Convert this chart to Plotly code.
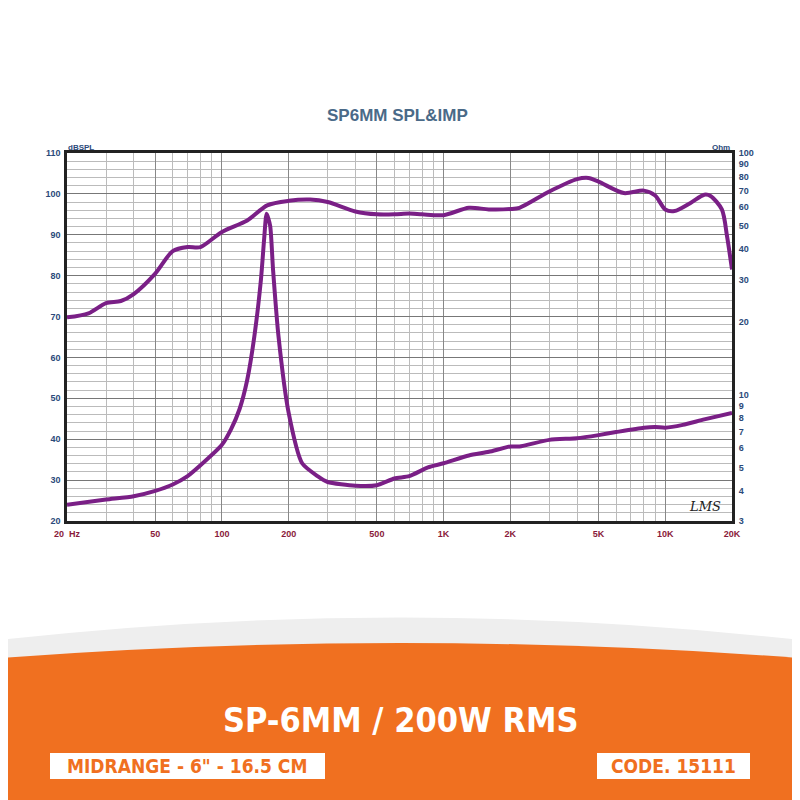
import plotly.graph_objects as go
import numpy as np

spl_f = [20,25,30,35,40,50,60,70,80,100,130,160,200,250,300,400,500,600,700,800,1000,
         1300,1600,2000,2200,3000,4000,4500,5000,6500,8000,9000,10000,11000,13000,15000,16000,18000,19000,20000]
spl_db = [69.8,70.8,73.3,73.8,75.5,80.5,86,87,87,90.7,93.5,97.2,98.3,98.6,98,95.7,95,95,95.2,95,94.8,
          96.6,96.2,96.3,96.6,100.6,103.6,103.9,103,100.2,100.8,99.6,96.2,95.8,97.8,99.8,99.5,96.2,89.6,81.5]
imp_f = [20,30,40,50,60,70,80,100,110,120,130,140,150,155,159,165,170,180,200,230,270,300,400,500,600,700,850,
         1000,1300,1600,2000,2200,3000,4000,5000,6000,8000,9000,10000,12000,15000,20000]
imp_ohm = [3.5,3.68,3.8,4.0,4.25,4.6,5.1,6.2,7.2,8.7,11.5,17.4,30,44,56,50,33,17.4,8.4,5.2,4.6,4.35,4.2,4.22,4.5,4.6,5.0,
           5.2,5.6,5.8,6.1,6.1,6.5,6.6,6.8,7.0,7.3,7.35,7.3,7.5,7.9,8.4]
x_ticks = [20,50,100,200,500,1000,2000,5000,10000,20000]
x_labels = ["20  Hz","50","100","200","500","1K","2K","5K","10K","20K"]
y_ticks = list(range(20,111,10))
y2_ticks = [3,4,5,6,7,8,9,10,20,30,40,50,60,70,80,90,100]

def px(p): return (p-67)/665
def py(p): return (521-p)/368

col = "#7a1f86"
fig = go.Figure()
fig.add_trace(go.Scatter(x=spl_f, y=spl_db, mode="lines", line=dict(color=col, width=4, shape="spline", smoothing=0.8), showlegend=False))
fig.add_trace(go.Scatter(x=imp_f, y=imp_ohm, yaxis="y2", mode="lines", line=dict(color=col, width=4, shape="spline", smoothing=0.6), showlegend=False))

tf = dict(size=9, color="#2b4a7a", family="Liberation Sans", weight="bold")
fig.update_layout(
    width=800, height=800, paper_bgcolor="white", plot_bgcolor="white",
    margin=dict(l=59, r=76, t=145, b=287),
    font=dict(family="Liberation Sans, Arial", color="#2b4a7a"),
    xaxis=dict(type="log", range=[np.log10(20), np.log10(20000)], tickvals=x_ticks, ticktext=x_labels,
               tickfont=dict(size=9, color="#8a1a3a", family="Liberation Sans", weight="bold"),
               ticks="outside", ticklen=2, tickcolor="rgba(0,0,0,0)",
               showgrid=True, gridcolor="#888", gridwidth=1.3,
               minor=dict(showgrid=True, gridcolor="#bbb", dtick="D1"),
               showline=True, linecolor="#222", linewidth=2.5, mirror=True, zeroline=False),
    yaxis=dict(range=[20,110], tickvals=y_ticks, tickfont=tf, ticks="outside", ticklen=2, tickcolor="rgba(0,0,0,0)",
               showgrid=True, gridcolor="#777", gridwidth=1.3,
               minor=dict(showgrid=True, gridcolor="#bbb", dtick=2),
               showline=True, linecolor="#222", linewidth=2.5, mirror=True, zeroline=False),
    yaxis2=dict(type="log", range=[np.log10(3), 2], overlaying="y", side="right", tickvals=y2_ticks,
                tickfont=tf, ticks="outside", ticklen=4, tickcolor="rgba(0,0,0,0)", showgrid=False, zeroline=False),
)
fig.add_shape(type="rect", xref="paper", yref="paper", x0=px(3), x1=px(797), y0=py(797), y1=py(3), layer="below",
              line=dict(width=1, color="#dddddd"))
fig.add_shape(type="path", xref="paper", yref="paper", layer="below",
              path=f"M {px(0)} {py(640)} Q {px(400)} {py(595)} {px(800)} {py(640)} L {px(800)} {py(805)} L {px(0)} {py(805)} Z",
              fillcolor="#eeeeee", line=dict(width=0))
fig.add_shape(type="path", xref="paper", yref="paper", layer="below",
              path=f"M {px(0)} {py(658)} Q {px(400)} {py(628)} {px(800)} {py(658)} L {px(800)} {py(805)} L {px(0)} {py(805)} Z",
              fillcolor="#f07020", line=dict(width=0))
fig.add_shape(type="rect", xref="paper", yref="paper", x0=px(50), x1=px(325), y0=py(779), y1=py(753),
              fillcolor="white", line=dict(width=0))
fig.add_shape(type="rect", xref="paper", yref="paper", x0=px(597), x1=px(750), y0=py(779), y1=py(753),
              fillcolor="white", line=dict(width=0))
def ann(text, x, y, size, color, family="Liberation Sans", xa="center", ya="middle"):
    fig.add_annotation(text=text, xref="paper", yref="paper", x=px(x), y=py(y), xanchor=xa, yanchor=ya,
                       showarrow=False, font=dict(size=size, color=color, family=family))
ann("<b>SP6MM SPL&IMP</b>", 397, 115, 17, "#4a6a88")
ann("<b>dBSPL</b>", 66, 147, 8, "#2b4a7a", xa="left")
ann("<b>Ohm</b>", 732, 147, 8, "#2b4a7a", xa="right")
ann("<i>LMS</i>", 705, 506, 13, "#222", family="DejaVu Serif")
cond = "DejaVu Sans Condensed, DejaVu Sans"
ann("<b>SP-6MM / 200W RMS</b>", 400, 720, 34, "white", family=cond)
ann("<b>MIDRANGE - 6\" - 16.5 CM</b>", 187, 766, 19, "#f07020", family=cond)
ann("<b>CODE. 15111</b>", 673, 766, 19, "#f07020", family=cond)
fig.write_html("out.html")
